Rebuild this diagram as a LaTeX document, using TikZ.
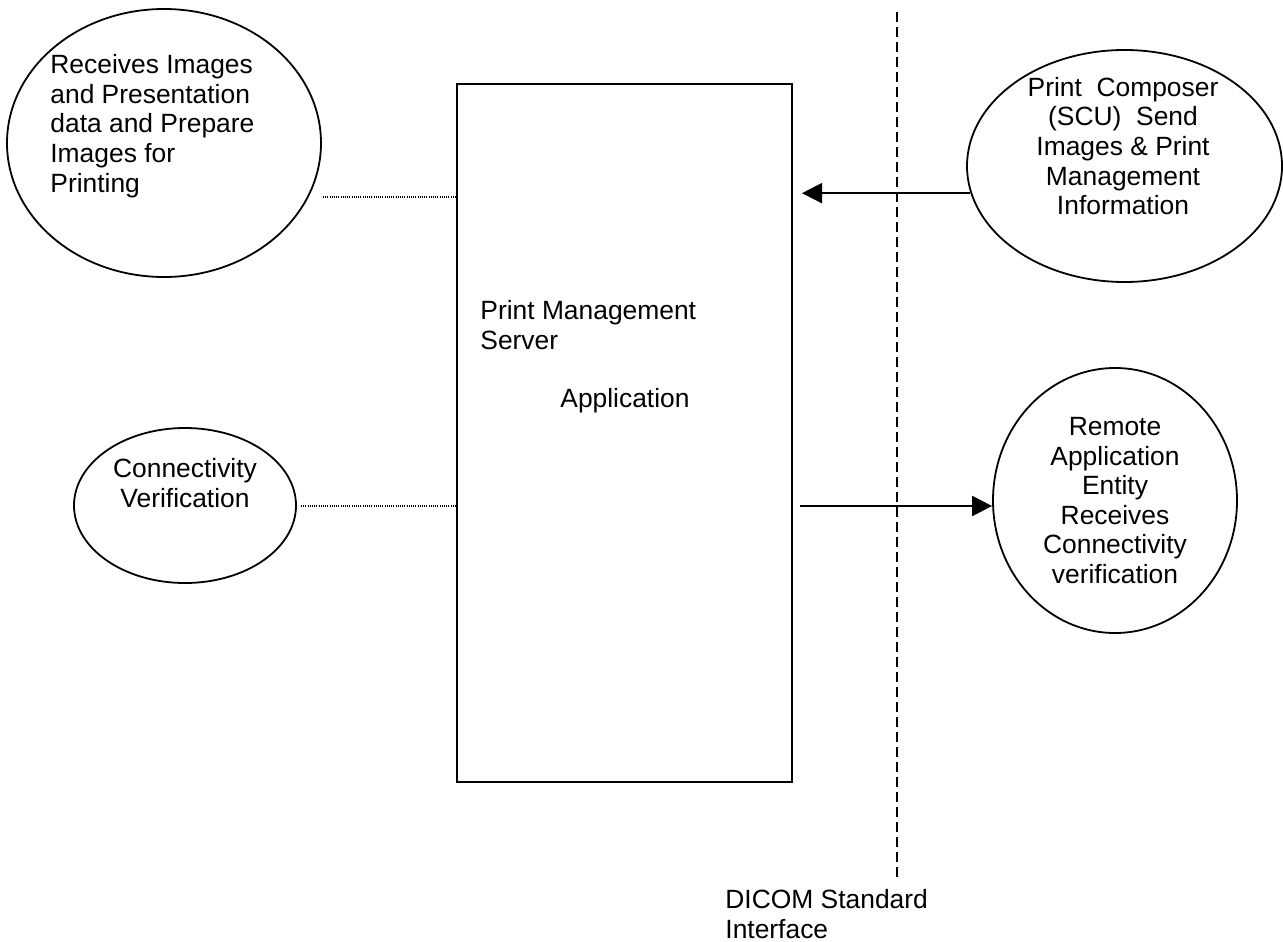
\documentclass[tikz,border=0pt]{standalone}
\usepackage{fontspec}
\setmainfont{Liberation Sans}
\usetikzlibrary{positioning, calc, arrows.meta, shapes.geometric}

\begin{document}
\begin{tikzpicture}
    [x=0.5pt, y=-0.5pt,
    ovalnode/.style={ellipse, draw=black, line width=0.9pt, inner sep=0pt},
    boxnode/.style={rectangle, draw=black, line width=0.9pt, inner sep=0pt},
    textnode/.style={inner sep=0pt, font=\fontsize{13.2}{14.8}\selectfont},
    dotline/.style={line width=0.6pt, dash pattern=on 0.5pt off 0.6pt},
    dashline/.style={line width=0.6pt, dash pattern=on 5pt off 2.5pt},
    arrowline/.style={line width=1.1pt, -{Triangle[length=10pt, width=10pt]}},]

    \useasboundingbox (0,0) rectangle (1283,941);

    %Nodes
    \node[ovalnode, minimum width=157pt, minimum height=134pt](receive) at (164,143){};
    \node[textnode, align=left, anchor=west](receivetext) at (50,126){Receives Images\\and Presentation\\data and Prepare\\Images for\\Printing};

    \node[ovalnode, minimum width=111pt, minimum height=77.5pt](verify) at (185,505.5){};
    \node[textnode, align=center](verifytext) at (185,483){Connectivity\\Verification};

    \node[boxnode, minimum width=167.5pt, minimum height=349pt](server) at (624.5,433){};
    \node[textnode, align=left, anchor=base west](servertext) at (480,407){Print Management\\Server\\[14.2pt]\hspace*{40pt}Application};

    \node[ovalnode, minimum width=157.5pt, minimum height=116pt](composer) at (1124.5,166){};
    \node[textnode, align=center](composertext) at (1123,146){Print\ \ Composer\\(SCU)\ \ Send\\Images \& Print\\Management\\Information};

    \node[ovalnode, textnode, align=center, minimum width=122pt, minimum height=132.5pt](remote) at (1115,500.5){Remote\\Application\\Entity\\Receives\\Connectivity\\verification};

    \node[textnode, align=left, anchor=west](dicom) at (725,914){DICOM Standard\\Interface};

    \coordinate (dashtop) at (897,12);
    \coordinate (dashbottom) at (897,878);
    \coordinate (dot1) at (323,197);
    \coordinate (dot2) at (301,506);
    \coordinate (intip) at (802,193);
    \coordinate (outstart) at (800,506);

    %Lines
    \draw[dashline] (dashtop) -- (dashbottom);

    \draw[dotline] (dot1) -- (dot1 -| server.west);
    \draw[dotline] (dot2) -- (dot2 -| server.west);

    \draw[arrowline] (composer.190) -- (composer.190 -| intip);
    \draw[arrowline] (outstart) -- (outstart -| remote.west);
\end{tikzpicture}
\end{document}
